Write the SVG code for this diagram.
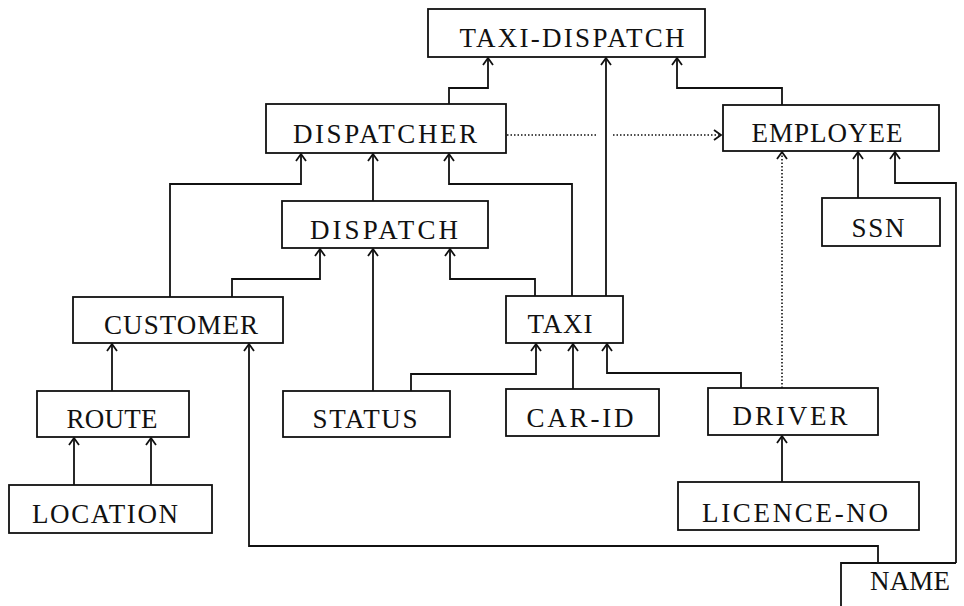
<svg xmlns="http://www.w3.org/2000/svg" width="964" height="606" viewBox="0 0 964 606">
<style>
.box{fill:none;stroke:#111;stroke-width:1.8}
.lbl{font-family:"Liberation Serif","DejaVu Serif",serif;font-size:27px;fill:#111;text-anchor:middle}
.c{fill:none;stroke:#111;stroke-width:1.8}
.d{fill:none;stroke:#111;stroke-width:1.6;stroke-dasharray:1.5 2}
</style>
<defs>
<marker id="ah" markerUnits="userSpaceOnUse" markerWidth="14" markerHeight="14" viewBox="-8 -7 10 14" refX="0" refY="0" orient="auto">
<path d="M-7,-5 L0,0 L-7,5" fill="none" stroke="#111" stroke-width="1.8"/>
</marker>
</defs>
<rect width="964" height="606" fill="#fff"/>
<g id="connectors">
<path class="c" d="M449,104 V88 H488 V58" marker-end="url(#ah)"/>
<path class="c" d="M606,296 V58" marker-end="url(#ah)"/>
<path class="c" d="M782,105 V88 H677 V58" marker-end="url(#ah)"/>
<path class="d" d="M507,135 H597 M613,135 H721" marker-end="url(#ah)"/>
<path class="c" d="M170,297 V184 H301 V154" marker-end="url(#ah)"/>
<path class="c" d="M373,201 V154" marker-end="url(#ah)"/>
<path class="c" d="M572,296 V184 H449 V154" marker-end="url(#ah)"/>
<path class="c" d="M232,297 V279 H320 V249" marker-end="url(#ah)"/>
<path class="c" d="M373,391 V249" marker-end="url(#ah)"/>
<path class="c" d="M535,296 V279 H450 V249" marker-end="url(#ah)"/>
<path class="c" d="M411,391 V374 H536 V344" marker-end="url(#ah)"/>
<path class="c" d="M573,389 V344" marker-end="url(#ah)"/>
<path class="c" d="M741,388 V373 H607 V344" marker-end="url(#ah)"/>
<path class="d" d="M782,388 V152" marker-end="url(#ah)"/>
<path class="c" d="M858,198 V152" marker-end="url(#ah)"/>
<path class="c" d="M956,563 V183 H895 V152" marker-end="url(#ah)"/>
<path class="c" d="M112,391 V344" marker-end="url(#ah)"/>
<path class="c" d="M878,563 V546 H249 V344" marker-end="url(#ah)"/>
<path class="c" d="M74,485 V438" marker-end="url(#ah)"/>
<path class="c" d="M151,485 V438" marker-end="url(#ah)"/>
<path class="c" d="M782,482 V436" marker-end="url(#ah)"/>
</g>
<g id="taxi-dispatch"><rect class="box" x="428" y="9" width="277" height="48"/><text class="lbl" x="572" y="47" textLength="225" lengthAdjust="spacing">TAXI-DISPATCH</text></g>
<g id="dispatcher"><rect class="box" x="266" y="104" width="240" height="49"/><text class="lbl" x="385" y="143" textLength="184" lengthAdjust="spacing">DISPATCHER</text></g>
<g id="employee"><rect class="box" x="723" y="105" width="216" height="46"/><text class="lbl" x="827" y="142" textLength="151" lengthAdjust="spacing">EMPLOYEE</text></g>
<g id="ssn"><rect class="box" x="822" y="198" width="118" height="48"/><text class="lbl" x="878" y="237" textLength="53" lengthAdjust="spacing">SSN</text></g>
<g id="dispatch"><rect class="box" x="282" y="201" width="206" height="47"/><text class="lbl" x="384" y="239" textLength="148" lengthAdjust="spacing">DISPATCH</text></g>
<g id="customer"><rect class="box" x="73" y="297" width="210" height="46"/><text class="lbl" x="181" y="334" textLength="154" lengthAdjust="spacing">CUSTOMER</text></g>
<g id="taxi"><rect class="box" x="506" y="296" width="117" height="47"/><text class="lbl" x="560" y="333" textLength="65" lengthAdjust="spacing">TAXI</text></g>
<g id="route"><rect class="box" x="37" y="391" width="152" height="46"/><text class="lbl" x="112" y="428" textLength="91" lengthAdjust="spacing">ROUTE</text></g>
<g id="status"><rect class="box" x="283" y="391" width="167" height="46"/><text class="lbl" x="365" y="428" textLength="105" lengthAdjust="spacing">STATUS</text></g>
<g id="car-id"><rect class="box" x="506" y="389" width="153" height="47"/><text class="lbl" x="580" y="427" textLength="107" lengthAdjust="spacing">CAR-ID</text></g>
<g id="driver"><rect class="box" x="708" y="388" width="170" height="47"/><text class="lbl" x="790" y="425" textLength="115" lengthAdjust="spacing">DRIVER</text></g>
<g id="location"><rect class="box" x="9" y="485" width="203" height="48"/><text class="lbl" x="105" y="523" textLength="146" lengthAdjust="spacing">LOCATION</text></g>
<g id="licence-no"><rect class="box" x="678" y="482" width="241" height="48"/><text class="lbl" x="795" y="522" textLength="186" lengthAdjust="spacing">LICENCE-NO</text></g>
<g id="name"><path class="box" d="M841,607 V563 H956"/><text class="lbl" x="910" y="590" textLength="80" lengthAdjust="spacing">NAME</text></g>
</svg>
